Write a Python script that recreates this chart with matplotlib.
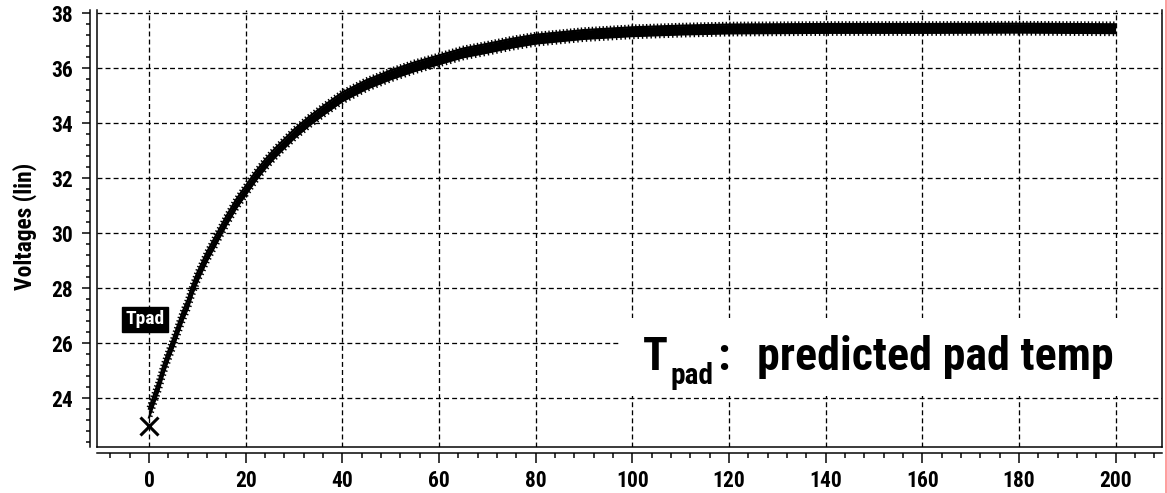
import matplotlib
matplotlib.use("Agg")
import matplotlib.pyplot as plt
from matplotlib import font_manager, patheffects
from matplotlib.ticker import MultipleLocator, FixedLocator
from matplotlib.patches import Rectangle
from matplotlib.lines import Line2D
import numpy as np

# ---- data -------------------------------------------------------------
time_s = [0, 1, 2, 3, 4, 5, 6, 7, 8, 9, 10, 12, 14, 16, 18, 20, 22, 24, 26,
          28, 30, 33, 36, 40, 45, 50, 55, 60, 65, 70, 75, 80, 90, 100, 110,
          120, 140, 160, 180, 200]
tpad = [23.45, 23.95, 24.45, 25.05, 25.55, 26.0, 26.5, 27.0, 27.4, 27.95,
        28.4, 29.15, 29.8, 30.45, 31.05, 31.55, 32.05, 32.5, 32.9, 33.25,
        33.6, 34.05, 34.45, 34.95, 35.4, 35.75, 36.05, 36.3, 36.55, 36.72,
        36.9, 37.05, 37.22, 37.32, 37.38, 37.42, 37.44, 37.44, 37.45, 37.43]
ripple = 0.16          # half peak-to-peak of the ripple riding on Tpad
start_point = (0, 23.0)

x_ticks = [0, 20, 40, 60, 80, 100, 120, 140, 160, 180, 200]
y_ticks = [24, 26, 28, 30, 32, 34, 36, 38]
trace_label = "Tpad"
y_label = "Voltages (lin)"
note_main = "T"
note_sub = "pad"
note_rest = "predicted pad temp"

# ---- fonts: prefer a narrow bold sans ---------------------------------
names = {f.name for f in font_manager.fontManager.ttflist}
FAM = "Roboto"
for cand in ("Liberation Sans Narrow", "Roboto Condensed",
             "Open Sans Condensed", "Arial Narrow"):
    if cand in names:
        FAM = cand
        break
FONT = dict(family=FAM, fontweight="bold")

W, H = 1167, 493
fig = plt.figure(figsize=(W / 100, H / 100), dpi=100)
fig.patch.set_facecolor("white")
renderer = fig.canvas.get_renderer()


def fx(px):
    return px / W


def fy(py):
    return 1 - py / H


def fit_width(txt, target_px):
    """Rescale a text so its rendered width is target_px pixels."""
    w = txt.get_window_extent(renderer).width
    txt.set_fontsize(txt.get_fontsize() * target_px / w)
    return txt


# axes frame in pixels: left 97, right 1162, top 10, bottom 447
L, R, T, B = 97, 1162, 10, 447
ax = fig.add_axes([L / W, 1 - B / H, (R - L) / W, (B - T) / H])
ax.set_xlim(-10.76, 209.6)
ax.set_ylim(22.22, 38.11)

PX = 72 / 100  # points per pixel

# spines: detached scale axes on left and bottom, plain frame elsewhere
ax.spines["top"].set_visible(False)
ax.spines["right"].set_linewidth(1.5 * PX)
for s in ("left", "bottom"):
    ax.spines[s].set_linewidth(1.5 * PX)
ax.spines["left"].set_position(("outward", 7 * PX))
ax.spines["bottom"].set_position(("outward", 6 * PX))
for xy in (([0, 0], [0, 1]), ([0, 1], [0, 0])):
    ax.add_line(Line2D(*xy, transform=ax.transAxes, color="black",
                       lw=1.5 * PX, clip_on=False, zorder=5))

ax.xaxis.set_major_locator(FixedLocator(x_ticks))
ax.yaxis.set_major_locator(FixedLocator(y_ticks))
ax.xaxis.set_minor_locator(MultipleLocator(4))
ax.yaxis.set_minor_locator(MultipleLocator(0.4))
ax.tick_params(axis="x", which="major", direction="out", length=10 * PX,
               width=1.5 * PX, pad=7 * PX)
ax.tick_params(axis="x", which="minor", direction="out", length=5 * PX,
               width=1.5 * PX)
ax.tick_params(axis="y", which="major", direction="out", length=8 * PX,
               width=1.5 * PX, pad=9 * PX)
ax.tick_params(axis="y", which="minor", direction="out", length=4 * PX,
               width=1.5 * PX)
ax.set_xticklabels([str(v) for v in x_ticks])
ax.set_yticklabels([str(v) for v in y_ticks])
for lab in ax.get_xticklabels() + ax.get_yticklabels():
    lab.set_fontfamily(FAM)
    lab.set_fontweight("bold")
    lab.set_fontsize(15.5)

ax.set_axisbelow(True)
ax.grid(True, which="major", color="black", lw=1.3 * PX,
        linestyle=(0, (3.8, 2.4)))

# ---- trace ------------------------------------------------------------
t = np.asarray(time_s, float)
v = np.asarray(tpad, float)
ax.fill_between(t, v - ripple, v + ripple, color="black", lw=0, zorder=3)
ax.plot(t, v + ripple, color="black", lw=1.6, zorder=3)
ax.plot(t, v - ripple, color="black", lw=1.6, zorder=3)
# ripple texture along the trace
ax.plot(t, v + ripple, color="black", lw=1.0, zorder=3,
        path_effects=[patheffects.TickedStroke(spacing=2.6, angle=90,
                                               length=0.6)])
ax.plot(t, v - ripple, color="black", lw=1.0, zorder=3,
        path_effects=[patheffects.TickedStroke(spacing=3.1, angle=-90,
                                               length=0.55)])
ax.plot(*start_point, marker="x", ms=13, mew=2.2, color="black",
        zorder=4, clip_on=False)

# trace name tag
ax.text(-4.8, 26.86, trace_label, color="white", va="center", ha="left",
        fontsize=14, zorder=6,
        bbox=dict(boxstyle="square,pad=0.17", fc="black", ec="black"), **FONT)

# annotation block on a white panel
ax.add_patch(Rectangle((97.6, 24.07), 112.0, 2.84, fc="white", ec="none",
                       zorder=2))

t_main = fig.text(fx(643), fy(370), note_main, fontsize=30, va="baseline",
                  ha="left", **FONT)
t_rest = fig.text(fx(757), fy(370), note_rest, fontsize=30, va="baseline",
                  ha="left", **FONT)
fit_width(t_rest, 356)
t_main.set_fontsize(t_rest.get_fontsize())
t_colon = fig.text(fx(717), fy(370), ":", fontsize=t_rest.get_fontsize(),
                   va="baseline", ha="left", **FONT)
t_right = t_main.get_window_extent(renderer).x1
fig.text((t_right + 3) / W, fy(384), note_sub,
         fontsize=t_rest.get_fontsize() * 0.64, va="baseline", ha="left",
         **FONT)

ylab = fig.text(fx(25), fy(226), y_label, rotation=90, ha="center",
                va="center", fontsize=12, **FONT)
h = ylab.get_window_extent(renderer).height
ylab.set_fontsize(12 * 128 / h)

# pink marker strip at the right edge
fig.add_artist(Line2D([fx(1165.5), fx(1165.5)], [0, 1], color="#ff9f9f",
                      lw=3 * PX))

fig.savefig("out.png", dpi=100, facecolor="white")
